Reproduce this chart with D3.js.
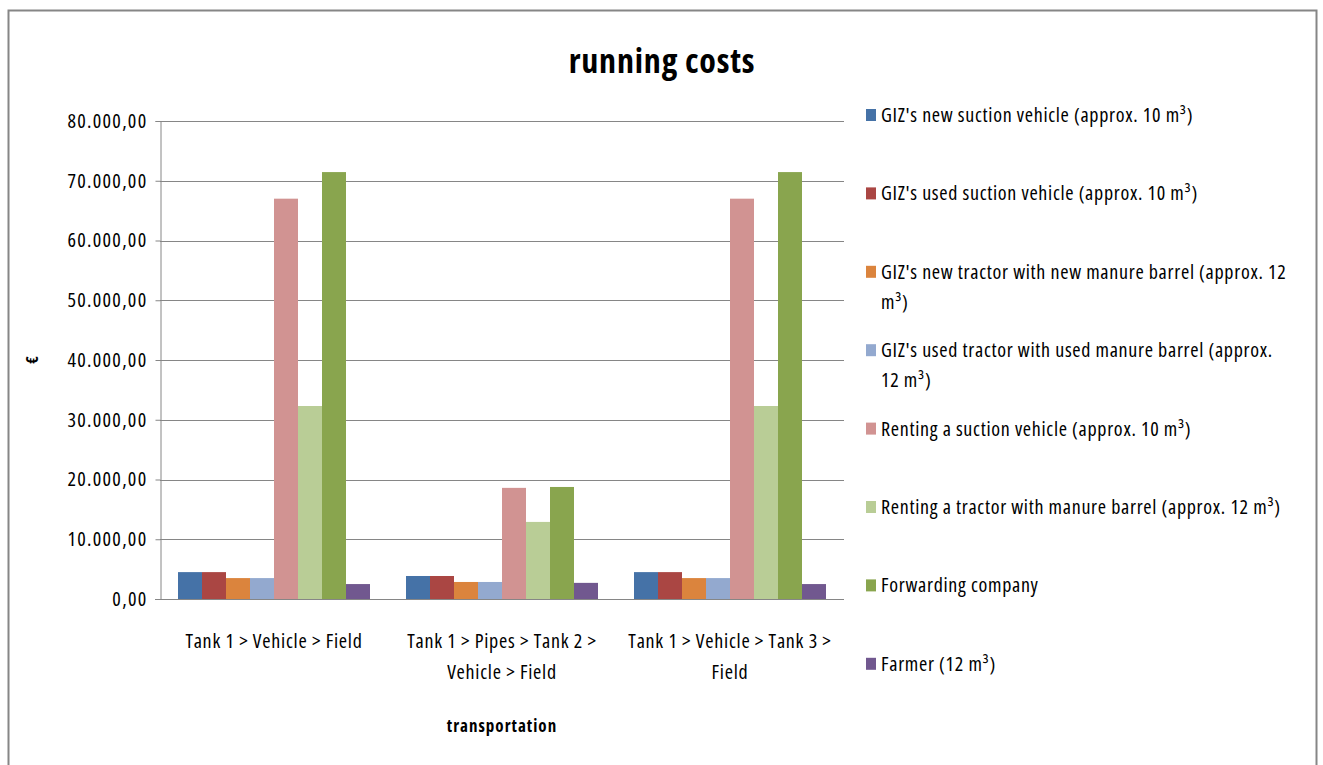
<!DOCTYPE html>
<html>
<head>
<meta charset="utf-8">
<script src="https://cdn.jsdelivr.net/npm/d3@7"></script>
<style>
  body { margin: 0; background: #fff; }
  text { font-family: "Open Sans", "Liberation Sans", sans-serif; font-stretch: 75%; font-weight: 400; fill: #000; }
</style>
</head>
<body>
<div id="chart"></div>
<script>
// categories (x axis) and their wrapped label lines
var categories = ["Tank 1 > Vehicle > Field", "Tank 1 > Pipes > Tank 2 > Vehicle > Field", "Tank 1 > Vehicle > Tank 3 > Field"];
var categoryLines = [["Tank 1 > Vehicle > Field"], ["Tank 1 > Pipes > Tank 2 >", "Vehicle > Field"], ["Tank 1 > Vehicle > Tank 3 >", "Field"]];

// series names, legend lines and values
var seriesNames = [
  "GIZ's new suction vehicle (approx. 10 m³)",
  "GIZ's used suction vehicle (approx. 10 m³)",
  "GIZ's new tractor with new manure barrel (approx. 12 m³)",
  "GIZ's used tractor with used manure barrel (approx. 12 m³)",
  "Renting a suction vehicle (approx. 10 m³)",
  "Renting a tractor with manure barrel (approx. 12 m³)",
  "Forwarding company",
  "Farmer (12 m³)"
];
var legendLines = [
  ["GIZ's new suction vehicle (approx. 10 m³)"],
  ["GIZ's used suction vehicle (approx. 10 m³)"],
  ["GIZ's new tractor with new manure barrel (approx. 12", "m³)"],
  ["GIZ's used tractor with used manure barrel (approx.", "12 m³)"],
  ["Renting a suction vehicle (approx. 10 m³)"],
  ["Renting a tractor with manure barrel (approx. 12 m³)"],
  ["Forwarding company"],
  ["Farmer (12 m³)"]
];
var newSuction     = [4500, 3850, 4500];
var usedSuction    = [4500, 3850, 4500];
var newTractor     = [3500, 2850, 3500];
var usedTractor    = [3500, 2850, 3500];
var rentSuction    = [67000, 18600, 67000];
var rentTractor    = [32300, 12900, 32300];
var forwarding     = [71450, 18750, 71450];
var farmer         = [2500, 2700, 2500];
var seriesValues = [newSuction, usedSuction, newTractor, usedTractor, rentSuction, rentTractor, forwarding, farmer];
var yTicks = [0, 10000, 20000, 30000, 40000, 50000, 60000, 70000, 80000];

var colors = ["#4572A7", "#AA4643", "#DB843D", "#93A9CF", "#D19392", "#B9CD96", "#89A54E", "#71588F"];

var W = 1323, H = 765;
var plot = {left: 160, right: 844, top: 121, bottom: 599};

var svg = d3.select("#chart").append("svg")
  .attr("width", W).attr("height", H);

// outer chart border
svg.append("rect")
  .attr("x", 8.5).attr("y", 10.5)
  .attr("width", 1308).attr("height", 780)
  .attr("fill", "none").attr("stroke", "#868686").attr("stroke-width", 2);

// scales
var x0 = d3.scaleBand().domain(categories).range([plot.left, plot.right]).paddingInner(1.5 / 9.5).paddingOuter(0.75 / 9.5);
var x1 = d3.scaleBand().domain(d3.range(seriesNames.length)).range([0, x0.bandwidth()]);
var y = d3.scaleLinear().domain([0, 80000]).range([plot.bottom, plot.top]);

var locale = d3.formatLocale({decimal: ",", thousands: ".", grouping: [3], currency: ["", "€"]});
var fmt = locale.format(",.2f");

// gridlines
svg.append("g")
  .selectAll("line").data(yTicks.slice(1)).enter().append("line")
  .attr("x1", plot.left).attr("x2", plot.right)
  .attr("y1", function(d) { return Math.round(y(d)) + 0.5; })
  .attr("y2", function(d) { return Math.round(y(d)) + 0.5; })
  .attr("stroke", "#868686").attr("stroke-width", 1);

// y axis
var yAxis = svg.append("g")
  .attr("transform", "translate(" + (plot.left + 0.5) + ",0)")
  .call(d3.axisLeft(y).tickValues(yTicks).tickFormat(fmt).tickSize(5).tickPadding(8));
yAxis.selectAll("line, path").attr("stroke", "#868686");
yAxis.selectAll("text").style("font-size", "20px").style("letter-spacing", "1.3px").attr("fill", "#000");

// bars
var groups = svg.append("g").selectAll("g").data(categories).enter().append("g")
  .attr("transform", function(d) { return "translate(" + x0(d) + ",0)"; });
groups.selectAll("rect")
  .data(function(d, i) { return seriesValues.map(function(s, k) { return {k: k, v: s[i]}; }); })
  .enter().append("rect")
  .attr("x", function(d) { return x1(d.k); })
  .attr("width", x1.bandwidth())
  .attr("y", function(d) { return y(d.v); })
  .attr("height", function(d) { return plot.bottom - y(d.v); })
  .attr("fill", function(d) { return colors[d.k]; });

// x axis line
svg.append("line")
  .attr("x1", plot.left - 5).attr("x2", plot.right)
  .attr("y1", plot.bottom + 0.5).attr("y2", plot.bottom + 0.5)
  .attr("stroke", "#868686");

// category labels
var xl = svg.append("g").selectAll("text").data(categories).enter().append("text")
  .attr("x", function(d) { return x0(d) + x0.bandwidth() / 2; })
  .attr("y", 648)
  .attr("text-anchor", "middle")
  .style("font-size", "20px").style("letter-spacing", "0.75px");
xl.selectAll("tspan")
  .data(function(d, i) { return categoryLines[i]; })
  .enter().append("tspan")
  .attr("x", function() { var p = this.parentNode; return p.getAttribute("x"); })
  .attr("dy", function(d, i) { return i === 0 ? 0 : 31; })
  .text(function(d) { return d; });

// title
svg.append("text")
  .attr("x", 662).attr("y", 73)
  .attr("text-anchor", "middle")
  .style("font-size", "34px").style("font-weight", "bold").style("letter-spacing", "0.8px")
  .text("running costs");

// axis titles
svg.append("text")
  .attr("x", 502).attr("y", 732)
  .attr("text-anchor", "middle")
  .style("font-size", "17px").style("font-weight", "bold").style("letter-spacing", "1px")
  .text("transportation");
svg.append("text")
  .attr("transform", "translate(38,360) rotate(-90)")
  .attr("text-anchor", "middle")
  .style("font-size", "16px").style("font-weight", "bold")
  .text("€");

// legend
var legend = svg.append("g").selectAll("g").data(seriesNames).enter().append("g")
  .attr("transform", function(d, i) { return "translate(866," + (116 + i * 78.4) + ")"; });
legend.append("rect")
  .attr("x", 0).attr("y", -7).attr("width", 10).attr("height", 12)
  .attr("fill", function(d, i) { return colors[i]; });
var lt = legend.append("text")
  .attr("x", 15).attr("y", 6)
  .style("font-size", "20px").style("letter-spacing", "0.7px");
lt.selectAll("tspan")
  .data(function(d, i) { return legendLines[i]; })
  .enter().append("tspan")
  .attr("x", 15)
  .attr("dy", function(d, i) { return i === 0 ? 0 : 30; })
  .text(function(d) { return d; });
</script>
</body>
</html>
